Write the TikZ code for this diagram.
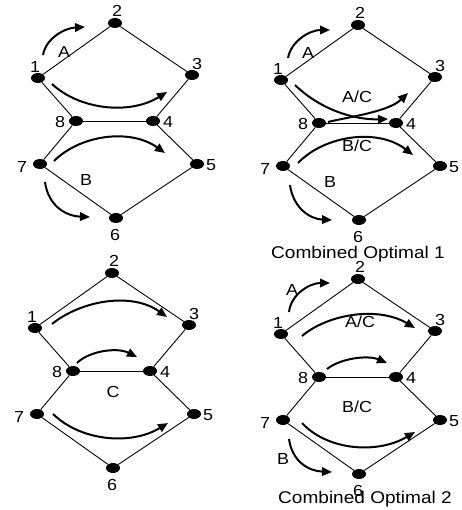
\documentclass[tikz,border=0pt]{standalone}
\usepackage{fontspec}
\setmainfont{Liberation Sans}[FakeStretch=1.12]
\usetikzlibrary{shapes.geometric,arrows.meta,calc}
\tikzset{
  vtx/.style={ellipse,fill=black,draw=none,minimum width=14pt,minimum height=10pt,inner sep=0pt},
  edge/.style={line width=0.9pt,black},
  arr/.style={line width=2pt,-{Triangle[length=10pt,width=8.5pt]}},
  lbl/.style={inner sep=0pt,text height=11.5pt,text depth=0pt,font=\fontsize{16}{16}\selectfont},
  captxt/.style={inner sep=0pt,text height=12.3pt,text depth=2pt,font=\fontsize{17}{17}\selectfont},
}
\newcommand{\graphbase}{%
  \node[vtx] (n1) at (38,78) {};
  \node[vtx] (n2) at (115,23) {};
  \node[vtx] (n3) at (192,75) {};
  \node[vtx] (n4) at (153,121) {};
  \node[vtx] (n5) at (197,164) {};
  \node[vtx] (n6) at (116,218) {};
  \node[vtx] (n7) at (40,164) {};
  \node[vtx] (n8) at (76,121) {};
  \draw[edge] (n1) -- (n2) -- (n3) -- (n4) -- (n5) -- (n6) -- (n7) -- (n8) -- (n1);
  \draw[edge] (n8) -- (n4);
  \node[lbl] (l2) at ($(n2)+(2,-12)$) {2};
  \node[lbl] (l1) at ($(n1)+(-3,-11)$) {1};
  \node[lbl] (l3) at ($(n3)+(5,-11)$) {3};
  \node[lbl] (l8) at ($(n8)+(-16,1)$) {8};
  \node[lbl] (l4) at ($(n4)+(15,1)$) {4};
  \node[lbl] (l7) at ($(n7)+(-18,3)$) {7};
  \node[lbl] (l5) at ($(n5)+(14,1)$) {5};
  \node[lbl] (l6) at ($(n6)+(-1,17)$) {6};
}
\begin{document}
\begin{tikzpicture}[x=1pt,y=-1pt]
\useasboundingbox (0,0) rectangle (461,510);
% panel 1
\begin{scope}[name prefix=pa-]
  \graphbase
  \draw[arr] ($(n1)+(5,-23)$) .. controls ($(n1)+(8,-40)$) and ($(n1)+(27,-50)$) .. ($(n1)+(47,-51)$);
  \draw[arr] ($(n1)+(14,6)$) .. controls ($(n1)+(42,32)$) and ($(n1)+(92,37)$) .. ($(n1)+(129,14)$);
  \draw[arr] ($(n7)+(14,-3)$) .. controls ($(n7)+(40,-29)$) and ($(n7)+(90,-36)$) .. ($(n7)+(125,-11)$);
  \draw[arr] ($(n7)+(5,18)$) .. controls ($(n7)+(8,41)$) and ($(n7)+(25,52)$) .. ($(n7)+(50,53)$);
  \node[lbl] (la) at (64,52) {A};
  \node[lbl] (lb) at (86,180) {B};
\end{scope}
% panel 2
\begin{scope}[shift={(243,2)},name prefix=pb-]
  \graphbase
  \draw[arr] ($(n1)+(7,-22)$) .. controls ($(n1)+(10,-39)$) and ($(n1)+(29,-50)$) .. ($(n1)+(49,-50)$);
  \draw[arr] ($(n1)+(14,5)$) .. controls ($(n1)+(42,32)$) and ($(n1)+(77,40)$) .. ($(n1)+(107,39)$);
  \draw[arr] ($(n8)+(9,-1)$) .. controls ($(n8)+(29,-6)$) and ($(n8)+(69,-11)$) .. ($(n8)+(89,-30)$);
  \draw[arr] ($(n7)+(15,-3)$) .. controls ($(n7)+(42,-31)$) and ($(n7)+(95,-38)$) .. ($(n7)+(130,-11)$);
  \draw[arr] ($(n7)+(7,19)$) .. controls ($(n7)+(10,41)$) and ($(n7)+(26,53)$) .. ($(n7)+(49,54)$);
  \node[lbl] (la) at (65,51) {A};
  \node[lbl] (lac) at (114,95) {A/C};
  \node[lbl] (lbc) at (114,144) {B/C};
  \node[lbl] (lb) at (87,180) {B};
  \node[captxt] (t1) at (115,251) {Combined Optimal 1};
\end{scope}
% panel 3
\begin{scope}[shift={(-3,250)},name prefix=pc-]
  \graphbase
  \draw[arr] ($(n1)+(17,-4)$) .. controls ($(n1)+(47,-28)$) and ($(n1)+(97,-36)$) .. ($(n1)+(132,-11)$);
  \draw[arr] ($(n8)+(4,-8)$) .. controls ($(n8)+(16,-20)$) and ($(n8)+(44,-24)$) .. ($(n8)+(64,-14)$);
  \draw[arr] ($(n7)+(16,0)$) .. controls ($(n7)+(45,28)$) and ($(n7)+(95,31)$) .. ($(n7)+(131,9)$);
  \node[lbl] (lc) at (116,142) {C};
\end{scope}
% panel 4
\begin{scope}[shift={(243,256)},name prefix=pd-]
  \graphbase
  \draw[arr] ($(n1)+(8,-22)$) .. controls ($(n1)+(10,-40)$) and ($(n1)+(29,-51)$) .. ($(n1)+(49,-51)$);
  \draw[arr] ($(n1)+(21,2)$) .. controls ($(n1)+(47,-20)$) and ($(n1)+(97,-28)$) .. ($(n1)+(134,-6)$);
  \draw[arr] ($(n8)+(8,-8)$) .. controls ($(n8)+(22,-19)$) and ($(n8)+(49,-22)$) .. ($(n8)+(68,-14)$);
  \draw[arr] ($(n7)+(19,3)$) .. controls ($(n7)+(45,31)$) and ($(n7)+(95,34)$) .. ($(n7)+(132,12)$);
  \draw[arr] ($(n7)+(6,19)$) .. controls ($(n7)+(9,41)$) and ($(n7)+(25,51)$) .. ($(n7)+(49,52)$);
  \node[lbl] (la) at (49,34) {A};
  \node[lbl] (lac) at (117,66) {A/C};
  \node[lbl] (lbc) at (114,151) {B/C};
  \node[lbl] (lb) at (40,203) {B};
  \node[captxt] (t2) at (122,242) {Combined Optimal 2};
\end{scope}
\end{tikzpicture}
\end{document}
